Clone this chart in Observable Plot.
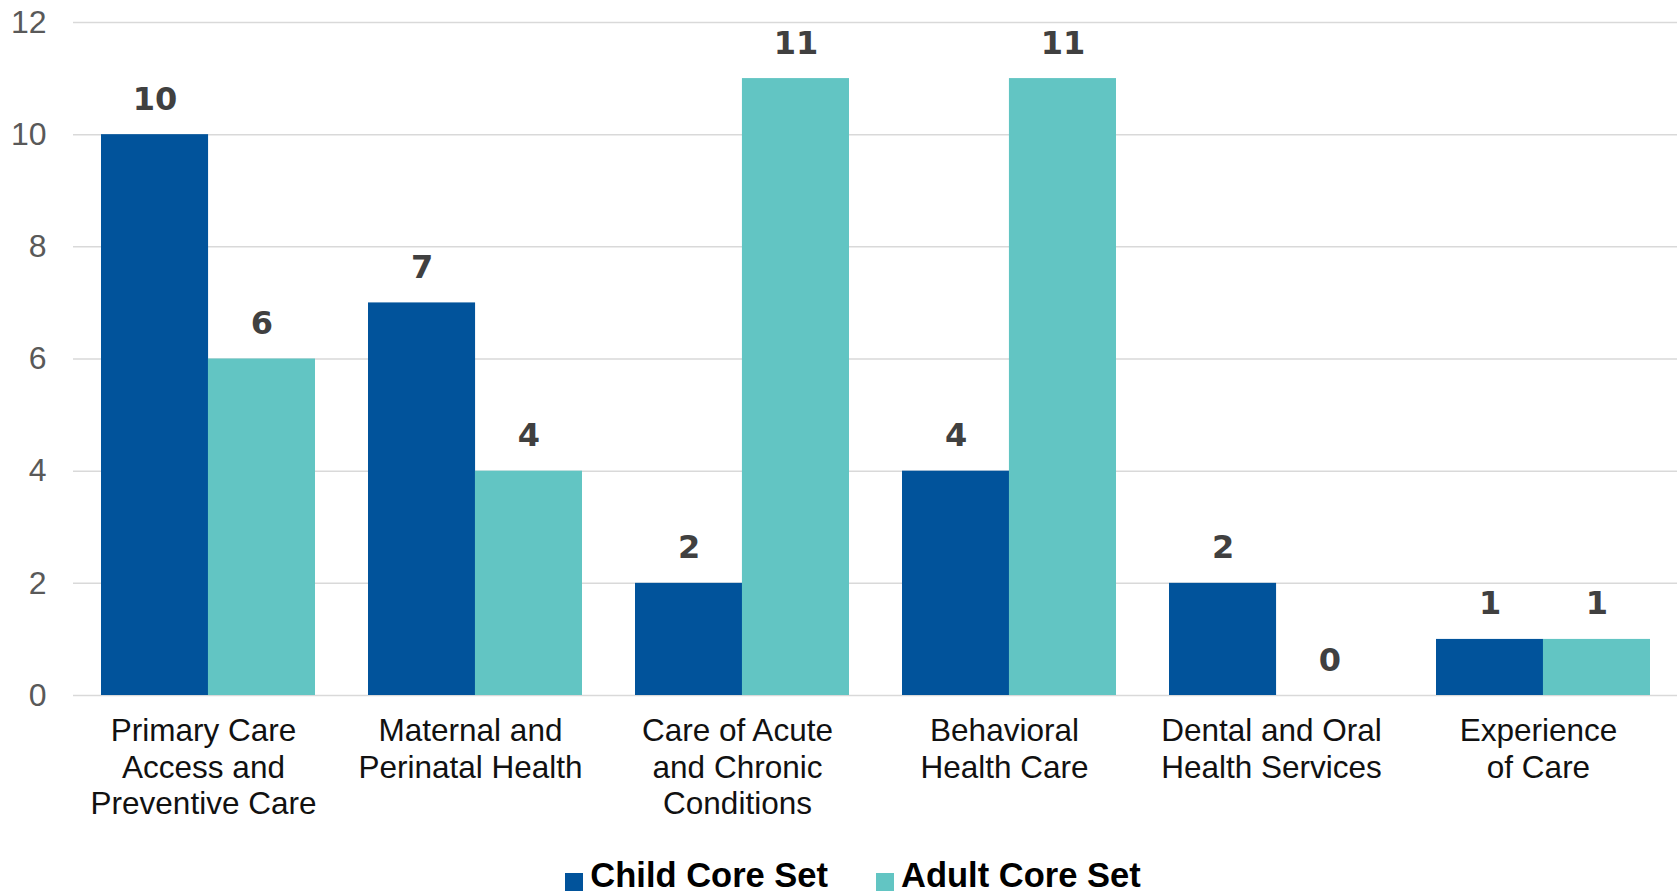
<!DOCTYPE html>
<html>
<head>
<meta charset="utf-8">
<script src="https://cdn.jsdelivr.net/npm/d3@7"></script>
<script src="https://cdn.jsdelivr.net/npm/@observablehq/plot@0.6"></script>
<style>
  html, body { margin: 0; padding: 0; background: #fff; }
  #chart svg { display: block; }
  #legend {
    display: flex; justify-content: center; align-items: center; gap: 48px;
    font-family: "Liberation Sans", Arial, sans-serif; font-weight: bold; font-size: 34.5px;
    color: #000; height: 36px; line-height: 36px; margin-left: 28px;
  }
  #legend span.sw { display: inline-block; width: 18px; height: 18px; margin-right: 7px; vertical-align: -4px; }
</style>
</head>
<body>
<div id="chart"></div>
<div id="legend"></div>
<script>
const categories = [
  "Primary Care\nAccess and\nPreventive Care",
  "Maternal and\nPerinatal Health",
  "Care of Acute\nand Chronic\nConditions",
  "Behavioral\nHealth Care",
  "Dental and Oral\nHealth Services",
  "Experience\nof Care"
];
const series = ["Child Core Set", "Adult Core Set"];
const childValues = [10, 7, 2, 4, 2, 1];
const adultValues = [6, 4, 11, 11, 0, 1];
const colors = ["#01539B", "#62C5C3"];
const yTicks = [0, 2, 4, 6, 8, 10, 12];

const data = [];
categories.forEach((c, i) => {
  data.push({category: c, series: series[0], value: childValues[i]});
  data.push({category: c, series: series[1], value: adultValues[i]});
});

const width = 1678, height = 857;
const marginLeft = 73, marginRight = 1, marginTop = 22, marginBottom = 162;
const pInner = 0.2, pOuter = 0.1;
const step = (width - marginLeft - marginRight) / (categories.length - pInner + 2 * pOuter);
const half = step * (1 - pInner) / 2;

const child = data.filter(d => d.series === series[0]);
const adult = data.filter(d => d.series === series[1]);

const labelStyle = {fontSize: 32, fontWeight: "bold", fill: "#404040", fontFamily: "'DejaVu Sans', sans-serif", lineAnchor: "bottom", dy: -25};

const chart = Plot.plot({
  width, height, marginLeft, marginRight, marginTop, marginBottom,
  style: {fontFamily: "'Liberation Sans', Arial, sans-serif", background: "#fff"},
  x: {domain: categories, paddingInner: pInner, paddingOuter: pOuter, label: null},
  y: {domain: [0, 12], label: null},
  color: {domain: series, range: colors},
  marks: [
    Plot.ruleY(yTicks, {stroke: "#d9d9d9", strokeWidth: 1.5}),
    Plot.axisY({ticks: yTicks, tickSize: 0, tickPadding: 27, fontSize: 32, fill: "#595959", label: null}),
    Plot.axisX({tickSize: 0, tickPadding: 20, dx: -5, fontSize: 31.5, fill: "#111", lineHeight: 1.155, lineAnchor: "top", label: null}),
    Plot.barY(child, {x: "category", y: "value", fill: "series", insetRight: half}),
    Plot.barY(adult, {x: "category", y: "value", fill: "series", insetLeft: half}),
    Plot.text(child, {x: "category", y: "value", text: d => String(d.value), dx: -half / 2, ...labelStyle}),
    Plot.text(adult, {x: "category", y: "value", text: d => String(d.value), dx: half / 2, ...labelStyle})
  ]
});
document.getElementById("chart").appendChild(chart);

const legend = document.getElementById("legend");
series.forEach((s, i) => {
  const item = document.createElement("div");
  const sw = document.createElement("span");
  sw.className = "sw";
  sw.style.background = colors[i];
  item.appendChild(sw);
  item.appendChild(document.createTextNode(s));
  legend.appendChild(item);
});
</script>
</body>
</html>
